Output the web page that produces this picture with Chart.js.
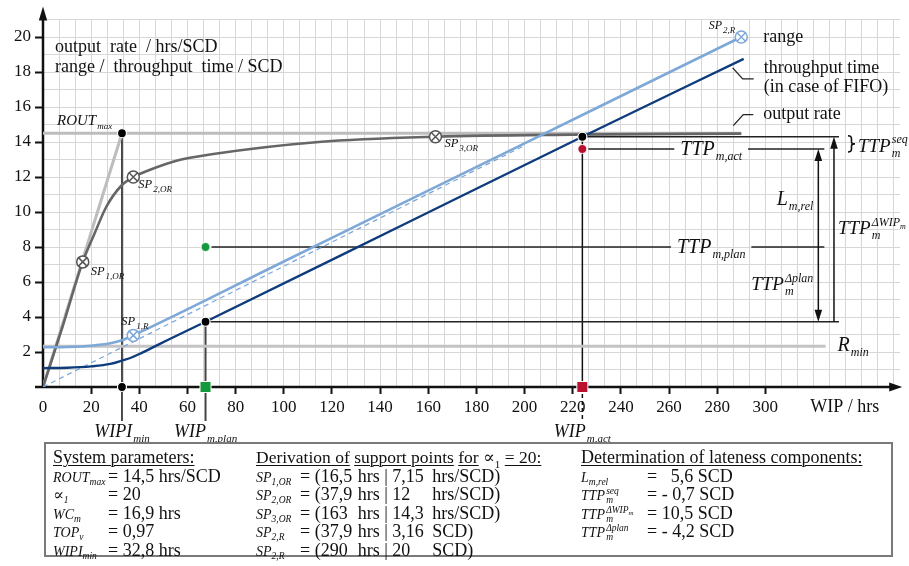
<!DOCTYPE html>
<html>
<head>
<meta charset="utf-8">
<script src="https://cdn.jsdelivr.net/npm/chart.js@4.4.1/dist/chart.umd.min.js"></script>
<style>
  html, body { margin: 0; padding: 0; background: #fff; }
  #wrap { position: relative; width: 909px; height: 566px; }
  #chart { position: absolute; left: 0; top: 0; }
  #params {
    position: absolute; left: 44px; top: 442px; width: 849px; height: 115px;
    border: 2px solid #7a7a7a; box-sizing: border-box;
    font-family: 'Liberation Serif', 'DejaVu Serif', serif; font-size: 18px; color: #111;
  }
  .col { position: absolute; top: 4px; }
  .row { height: 18.5px; line-height: 18.5px; white-space: pre; }
  .lab { display: inline-block; font-style: italic; font-size: 14px; }
  .lab sub { font-size: 9.5px; vertical-align: -3px; line-height: 0; }
  .ss { display: inline-block; font-size: 9.5px; line-height: 9px; vertical-align: -3px; margin-left: 1px; }
  .ss sub { font-size: 7px; vertical-align: -2px; line-height: 0; }
  .v { display: inline-block; }
  u { text-decoration-thickness: 1px; text-underline-offset: 2px; }
</style>
</head>
<body>
<div id="wrap">
  <canvas id="chart" width="909" height="450"></canvas>
  <div id="params"></div>
</div>
<script>
// --- values ---
const xTicks = [0, 20, 40, 60, 80, 100, 120, 140, 160, 180, 200, 220, 240, 260, 280, 300];
const yTicks = [2, 4, 6, 8, 10, 12, 14, 16, 18, 20];

// output rate operating curve (hrs/SCD over WIP)
const outputWip  = [0, 8, 16.5, 21.5, 26.3, 32.5, 37.5, 44.2, 56.6, 70, 114.5, 163, 220, 290];
const outputRate = [0, 3.4, 7.15, 8.8, 10.3, 11.5, 12, 12.4, 12.97, 13.3, 14.0, 14.3, 14.42, 14.48];

// range curve (SCD)
const rangeWip = [0, 10, 20, 28, 33, 37.5, 100, 150, 200, 250, 290];
const rangeVal = [2.27, 2.29, 2.36, 2.5, 2.68, 2.95, 7.17, 10.55, 13.92, 17.3, 20];

// throughput time in case of FIFO (SCD)
const ttpWip = [0, 10, 20, 28, 33, 37, 41, 45, 52, 67.5, 150, 224, 291];
const ttpVal = [1.08, 1.1, 1.18, 1.32, 1.52, 1.7, 1.95, 2.22, 2.7, 3.73, 9.3, 14.3, 18.75];

// dashed ideal range line
const dashWip = [0, 200];
const dashVal = [0, 13.8];

// support points
const spOrWip = [16.5, 37.5, 163];
const spOrVal = [7.15, 12, 14.3];
const spOrNames = ['1,OR', '2,OR', '3,OR'];
const spRWip = [37.5, 290];
const spRVal = [2.95, 20];
const spRNames = ['1,R', '2,R'];

// reference values
const rOutMax = 14.5, rMin = 2.33, wipiMin = 32.8;
const wipPlan = 67.5, wipAct = 224;
const ttpPlan = 8, ttpAct = 13.6, ttpAtPlan = 3.73, ttpAtAct = 14.3;
const maxLineEnd = 290, rMinEnd = 325;
const arrowWip = [322, 328.5];
const labelWip = 277.5;

// parameter box
const sysLabels = [['ROUT', 'max'], ['∝', '1'], ['WC', 'm'], ['TOP', 'v'], ['WIPI', 'min']];
const sysValues = ['= 14,5 hrs/SCD', '= 20', '= 16,9 hrs', '= 0,97', '= 32,8 hrs'];
const spTableNames = ['1,OR', '2,OR', '3,OR', '2,R', '2,R'];
const spTableWip = ['16,5', '37,9', '163', '37,9', '290'];
const spTableVal = ['7,15', '12', '14,3', '3,16', '20'];
const spTableUnit = ['hrs/SCD', 'hrs/SCD', 'hrs/SCD', 'SCD', 'SCD'];
const lateLabels = [['L', 'm,rel', ''], ['TTP', 'm', 'seq'], ['TTP', 'm', 'ΔWIP<sub>m</sub>'], ['TTP', 'm', 'Δplan']];
const lateValues = ['=   5,6 SCD', '= - 0,7 SCD', '= 10,5 SCD', '= - 4,2 SCD'];

const serif = "'Liberation Serif', 'DejaVu Serif', serif";
const gridX = Array.from({ length: 54 }, (_, k) => k * 20 / 3);
const gridY = Array.from({ length: 22 }, (_, k) => k);
const isXLabel = v => xTicks.some(t => Math.abs(t - v) < 1e-6);

const pts = (xs, ys) => xs.map((v, i) => ({ x: v, y: ys[i] }));

// --- drawing helpers ---
function seg(ctx, x1, y1, x2, y2, color, width, dash) {
    ctx.beginPath();
    ctx.setLineDash(dash || []);
    ctx.strokeStyle = color;
    ctx.lineWidth = width;
    ctx.moveTo(x1, y1);
    ctx.lineTo(x2, y2);
    ctx.stroke();
    ctx.setLineDash([]);
}

function head(ctx, x, y, dx, dy, len, hw, color) {
    ctx.beginPath();
    ctx.fillStyle = color;
    ctx.moveTo(x, y);
    ctx.lineTo(x - dx * len - dy * hw, y - dy * len + dx * hw);
    ctx.lineTo(x - dx * len + dy * hw, y - dy * len - dx * hw);
    ctx.closePath();
    ctx.fill();
}

// italic symbol with optional subscript / superscript (sup may carry its own subscript)
function mathText(ctx, x, y, base, sub, sup, size, align, supSub) {
    const big = `italic ${size}px ${serif}`;
    const sm = Math.max(9, Math.round(size * 0.62));
    const small = `italic ${sm}px ${serif}`;
    const tiny = `italic ${Math.max(7, Math.round(size * 0.42))}px ${serif}`;
    ctx.font = big;
    const wb = ctx.measureText(base).width;
    ctx.font = small;
    const ws = sub ? ctx.measureText(sub).width : 0;
    const wp = sup ? ctx.measureText(sup).width : 0;
    let wpp = 0;
    if (supSub) { ctx.font = tiny; wpp = ctx.measureText(supSub).width; }
    const w = wb + Math.max(ws, wp + wpp) + 1;
    if (align === 'measure') return w;
    const x0 = align === 'center' ? x - w / 2 : align === 'right' ? x - w : x;
    ctx.fillStyle = '#111';
    ctx.textAlign = 'left';
    ctx.textBaseline = 'alphabetic';
    ctx.font = big;
    ctx.fillText(base, x0, y);
    ctx.font = small;
    if (sub) ctx.fillText(sub, x0 + wb + 1, y + sm * 0.42);
    if (sup) ctx.fillText(sup, x0 + wb + 1, y - size * 0.45);
    if (supSub) { ctx.font = tiny; ctx.fillText(supSub, x0 + wb + 1 + wp, y - size * 0.3); }
    return w;
}

function plainText(ctx, text, x, y, size) {
    ctx.font = `${size}px ${serif}`;
    ctx.fillStyle = '#111';
    ctx.textAlign = 'left';
    ctx.textBaseline = 'middle';
    ctx.fillText(text, x, y);
}

const overlay = {
    id: 'overlay',
    beforeDatasetsDraw(chart) {
        const { ctx, chartArea: a, scales: { x, y } } = chart;
        const X = v => x.getPixelForValue(v), Y = v => y.getPixelForValue(v);
        const y0 = Y(0);
        ctx.save();

        // axes with arrows
        seg(ctx, a.left - 8, y0, a.right - 8, y0, '#111', 2.5);
        head(ctx, a.right + 2, y0, 1, 0, 13, 4.5, '#111');
        seg(ctx, a.left, y0, a.left, a.top - 4, '#111', 2.5);
        head(ctx, a.left, a.top - 13, 0, -1, 14, 4.2, '#111');

        // reference verticals (continue below the axis to their labels)
        seg(ctx, X(wipiMin), Y(rOutMax), X(wipiMin), y0 + 34, '#111', 1.5);
        seg(ctx, X(wipPlan), Y(ttpAtPlan), X(wipPlan), y0 + 34, '#444', 2);
        seg(ctx, X(wipAct), Y(ttpAtAct), X(wipAct), y0, '#111', 1.5);
        seg(ctx, X(wipAct), y0, X(wipAct), y0 + 34, '#111', 1.5, [4, 3]);

        // reference horizontals
        const xA = X(arrowWip[0]), xB = X(arrowWip[1]);
        seg(ctx, X(wipPlan), Y(ttpAtPlan), xB + 5, Y(ttpAtPlan), '#222', 1.5);
        seg(ctx, X(wipAct), Y(ttpAtAct), xB + 5, Y(ttpAtAct), '#222', 1.5);

        const gAct = mathText(ctx, 0, 0, 'TTP', 'm,act', '', 20, 'measure') + 12;
        seg(ctx, X(wipAct) + 6, Y(ttpAct), X(labelWip) - gAct / 2, Y(ttpAct), '#222', 1.5);
        seg(ctx, X(labelWip) + gAct / 2, Y(ttpAct), xA + 6, Y(ttpAct), '#222', 1.5);
        const gPlan = mathText(ctx, 0, 0, 'TTP', 'm,plan', '', 20, 'measure') + 12;
        seg(ctx, X(wipPlan) + 6, Y(ttpPlan), X(labelWip) - gPlan / 2, Y(ttpPlan), '#222', 1.5);
        seg(ctx, X(labelWip) + gPlan / 2, Y(ttpPlan), xA + 6, Y(ttpPlan), '#222', 1.5);

        // dimension arrows
        seg(ctx, xA, Y(ttpAct) + 8, xA, Y(ttpAtPlan) - 8, '#111', 1.5);
        head(ctx, xA, Y(ttpAct), 0, -1, 12, 3.8, '#111');
        head(ctx, xA, Y(ttpAtPlan), 0, 1, 12, 3.8, '#111');
        seg(ctx, xB, Y(ttpAtPlan), xB, Y(ttpAtAct) + 8, '#111', 1.5);
        head(ctx, xB, Y(ttpAtAct), 0, -1, 12, 3.8, '#111');

        // brace for TTP seq
        const bx = xB + 14, bt = Y(ttpAtAct) - 1, bb = Y(ttpAct) + 3, bm = (bt + bb) / 2;
        ctx.beginPath();
        ctx.strokeStyle = '#111';
        ctx.lineWidth = 1.6;
        ctx.moveTo(bx, bt);
        ctx.quadraticCurveTo(bx + 3.5, bt, bx + 3.5, bt + 3);
        ctx.lineTo(bx + 3.5, bm - 2);
        ctx.quadraticCurveTo(bx + 3.5, bm, bx + 7, bm);
        ctx.quadraticCurveTo(bx + 3.5, bm, bx + 3.5, bm + 2);
        ctx.lineTo(bx + 3.5, bb - 3);
        ctx.quadraticCurveTo(bx + 3.5, bb, bx, bb);
        ctx.stroke();

        ctx.restore();
    },
    afterDatasetsDraw(chart) {
        const { ctx, chartArea: a, scales: { x, y } } = chart;
        const X = v => x.getPixelForValue(v), Y = v => y.getPixelForValue(v);
        const y0 = Y(0);
        ctx.save();

        // axis titles
        plainText(ctx, 'output  rate  / hrs/SCD', a.left + 12, a.top + 28, 18);
        plainText(ctx, 'range /  throughput  time / SCD', a.left + 12, a.top + 48, 18);
        plainText(ctx, 'WIP / hrs', a.right - 90, y0 + 20, 18);

        // curve labels with leaders
        const rEnd = { x: X(rangeWip[rangeWip.length - 1]), y: Y(rangeVal[rangeVal.length - 1]) };
        plainText(ctx, 'range', rEnd.x + 22, rEnd.y, 18);
        const tEnd = { x: X(ttpWip[ttpWip.length - 1]), y: Y(ttpVal[ttpVal.length - 1]) };
        ctx.beginPath();
        ctx.strokeStyle = '#222'; ctx.lineWidth = 1.3;
        ctx.moveTo(tEnd.x - 11, tEnd.y + 9); ctx.lineTo(tEnd.x - 1, tEnd.y + 20); ctx.lineTo(tEnd.x + 10, tEnd.y + 20);
        ctx.stroke();
        plainText(ctx, 'throughput time', tEnd.x + 20, tEnd.y + 9, 18);
        plainText(ctx, '(in case of FIFO)', tEnd.x + 20, tEnd.y + 28, 18);
        const oEnd = { x: X(outputWip[outputWip.length - 1]), y: Y(outputRate[outputRate.length - 1]) };
        ctx.beginPath();
        ctx.moveTo(oEnd.x - 8, oEnd.y - 8); ctx.lineTo(oEnd.x + 2, oEnd.y - 19); ctx.lineTo(oEnd.x + 12, oEnd.y - 19);
        ctx.stroke();
        plainText(ctx, 'output rate', oEnd.x + 22, oEnd.y - 19, 18);

        // ROUT max
        mathText(ctx, a.left + 14, Y(rOutMax) - 8, 'ROUT', 'max', '', 15, 'left');

        // support point labels
        const orOff = [[8, 13], [5, 11], [9, 10]];
        spOrWip.forEach((w, i) => {
            mathText(ctx, X(w) + orOff[i][0], Y(spOrVal[i]) + orOff[i][1], 'SP', spOrNames[i], '', 12.5, 'left');
        });
        mathText(ctx, X(spRWip[0]) - 12, Y(spRVal[0]) - 10, 'SP', spRNames[0], '', 12.5, 'left');
        mathText(ctx, X(spRWip[1]) - 6, Y(spRVal[1]) - 8, 'SP', spRNames[1], '', 12, 'right');

        // annotation labels
        const xA = X(arrowWip[0]), xB = X(arrowWip[1]);
        mathText(ctx, X(labelWip), Y(ttpAct) + 6, 'TTP', 'm,act', '', 20, 'center');
        mathText(ctx, X(labelWip), Y(ttpPlan) + 6, 'TTP', 'm,plan', '', 20, 'center');
        mathText(ctx, xA - 5, Y((ttpAct + ttpPlan) / 2) + 7, 'L', 'm,rel', '', 20, 'right');
        mathText(ctx, xA - 5, Y((ttpPlan + ttpAtPlan) / 2) + 6, 'TTP', 'm', 'Δplan', 19, 'right');
        mathText(ctx, xB + 4, Y((ttpAtAct + ttpAtPlan) / 2) + 5, 'TTP', 'm', 'ΔWIP', 19, 'left', 'm');
        mathText(ctx, xB + 24, Y((ttpAtAct + ttpAct) / 2) + 9, 'TTP', 'm', 'seq', 19, 'left');
        mathText(ctx, X(rMinEnd) + 12, Y(rMin) + 5, 'R', 'min', '', 20, 'left');

        // WIP markers below the axis
        mathText(ctx, X(wipiMin), y0 + 50, 'WIPI', 'min', '', 18, 'center');
        mathText(ctx, X(wipPlan), y0 + 50, 'WIP', 'm,plan', '', 18, 'center');
        mathText(ctx, X(wipAct), y0 + 50, 'WIP', 'm,act', '', 18, 'center');

        ctx.restore();
    }
};

const lineSet = (data, color, width, extra) => Object.assign({
    data, showLine: true, borderColor: color, backgroundColor: color,
    borderWidth: width, pointRadius: 0, tension: 0
}, extra || {});

const markerSet = (data, style, radius, fill, stroke, width) => ({
    data, showLine: false, pointStyle: style, pointRadius: radius,
    pointBackgroundColor: fill, pointBorderColor: stroke, pointBorderWidth: width, clip: false
});

const datasets = [
    markerSet(pts([wipiMin, wipiMin, wipPlan, wipAct], [rOutMax, 0, ttpAtPlan, ttpAtAct]), 'circle', 4.5, '#000', '#fff', 1.2),
    markerSet(pts([wipPlan], [ttpPlan]), 'circle', 4.5, '#14993d', '#fff', 1),
    markerSet(pts([wipAct], [ttpAct]), 'circle', 4.5, '#b8102e', '#fff', 1),
    markerSet(pts([wipPlan, wipAct], [0, 0]), 'rect', 7.8, ['#14993d', '#b8102e'], '#fff', 1),
    markerSet(pts(spOrWip, spOrVal), 'crossRot', 6, '#fff', '#555', 1.5),
    markerSet(pts(spOrWip, spOrVal), 'circle', 6, '#fff', '#555', 1.5),
    markerSet(pts(spRWip, spRVal), 'crossRot', 6, '#fff', '#7ea8d8', 1.5),
    markerSet(pts(spRWip, spRVal), 'circle', 6, '#fff', '#7ea8d8', 1.5),
    lineSet(pts(ttpWip, ttpVal), '#0f3c7c', 2.4, { cubicInterpolationMode: 'monotone' }),
    lineSet(pts(rangeWip, rangeVal), '#7ea8d8', 2.6, { cubicInterpolationMode: 'monotone' }),
    lineSet(pts(dashWip, dashVal), '#7ea8d8', 1.3, { borderDash: [5, 4] }),
    lineSet(pts(outputWip, outputRate), '#666', 2.6, { cubicInterpolationMode: 'monotone' }),
    lineSet(pts([0, wipiMin], [0, rOutMax]), '#bdbdbd', 3),
    lineSet(pts([0, maxLineEnd], [rOutMax, rOutMax]), '#bdbdbd', 3),
    lineSet(pts([0, rMinEnd], [rMin, rMin]), '#c4c4c4', 3)
];

new Chart(document.getElementById('chart'), {
    type: 'scatter',
    data: { datasets },
    options: {
        responsive: false,
        animation: false,
        events: [],
        layout: { padding: { top: 19.5, right: 4, left: 0, bottom: 0 } },
        plugins: { legend: { display: false }, tooltip: { enabled: false } },
        scales: {
            x: {
                type: 'linear', min: 0, max: 356,
                afterBuildTicks: s => { s.ticks = gridX.map(v => ({ value: v })); },
                afterFit: s => { s.height = 63; },
                grid: {
                    color: '#d7d7d7', tickLength: 7, tickWidth: 2,
                    tickColor: c => (c.tick && c.tick.value > 0 && isXLabel(c.tick.value)) ? '#111' : 'rgba(0,0,0,0)'
                },
                border: { display: false },
                ticks: {
                    autoSkip: false, maxRotation: 0, padding: 3, color: '#111',
                    font: { family: serif, size: 17 },
                    callback: v => isXLabel(v) ? String(Math.round(v)) : ''
                }
            },
            y: {
                type: 'linear', min: 0, max: 21,
                afterBuildTicks: s => { s.ticks = gridY.map(v => ({ value: v })); },
                afterFit: s => { s.width = 43; },
                grid: {
                    color: '#d7d7d7', tickLength: 8, tickWidth: 2,
                    tickColor: c => (c.tick && yTicks.includes(c.tick.value)) ? '#111' : 'rgba(0,0,0,0)'
                },
                border: { display: false },
                ticks: {
                    autoSkip: false, padding: 4, color: '#111',
                    font: { family: serif, size: 17 },
                    callback: v => yTicks.includes(v) ? String(v) : ''
                }
            }
        }
    },
    plugins: [overlay]
});

// --- parameter box below the chart ---
const box = document.getElementById('params');
const colSys = ['<div class="row"><u>System parameters:</u></div>'].concat(
    sysLabels.map((l, i) => `<div class="row"><span class="lab" style="width:55px">${l[0] === '∝' ? '<span style="font-style:normal;font-size:16px">∝</span>' : l[0]}<sub>${l[1]}</sub></span>${sysValues[i]}</div>`)
);
const colSp = ['<div class="row" style="font-size:17.5px"><u>Derivation of</u> <u>support points</u> <u>for</u> ∝<sub style="font-size:11px">1</sub> <u>= 20:</u></div>'].concat(
    spTableNames.map((n, i) => `<div class="row"><span class="lab" style="width:44px">SP<sub>${n}</sub></span>= (<span class="v" style="width:37px">${spTableWip[i]}</span>hrs | <span class="v" style="width:40px">${spTableVal[i]}</span>${spTableUnit[i]})</div>`)
);
const colLate = ['<div class="row"><u>Determination of lateness components:</u></div>'].concat(
    lateLabels.map((l, i) => {
        const idx = l[2] ? `<span class="ss">${l[2]}<br>${l[1]}</span>` : `<sub>${l[1]}</sub>`;
        return `<div class="row"><span class="lab" style="width:66px">${l[0]}${idx}</span>${lateValues[i]}</div>`;
    })
);
box.innerHTML =
    `<div class="col" style="left:7px">${colSys.join('')}</div>` +
    `<div class="col" style="left:210px">${colSp.join('')}</div>` +
    `<div class="col" style="left:535px">${colLate.join('')}</div>`;
</script>
</body>
</html>
